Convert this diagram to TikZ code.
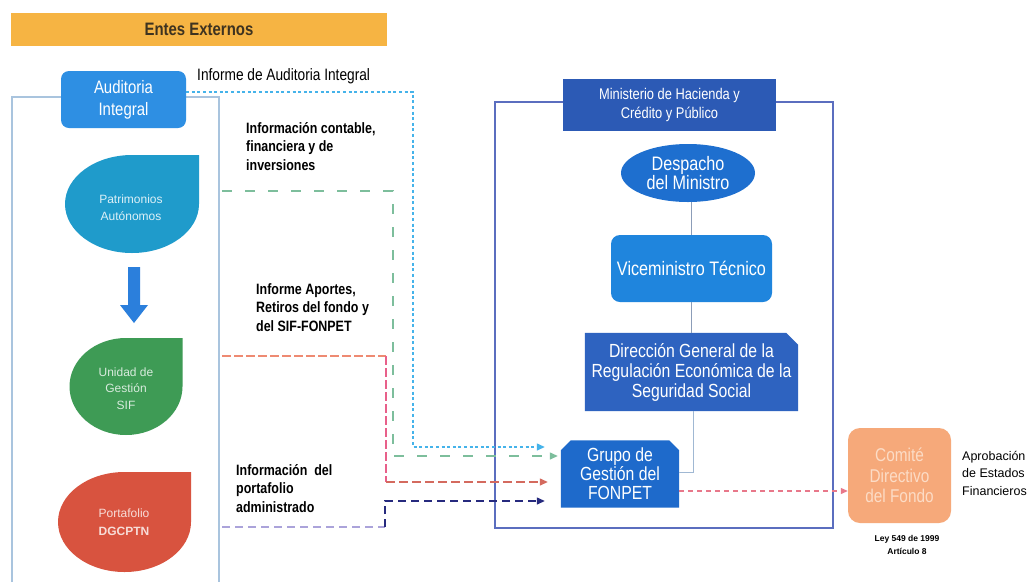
\documentclass[tikz,border=0pt]{standalone}
\usepackage{fontspec}
\setmainfont{Liberation Sans}[FakeStretch=0.83]
\newfontfamily\wide{Liberation Sans}
\usetikzlibrary{arrows.meta,backgrounds,shapes.geometric,calc}
\definecolor{orangeB}{HTML}{F6B443}
\definecolor{brownT}{HTML}{3E3320}
\definecolor{lbox}{HTML}{A9C4DE}
\definecolor{audC}{HTML}{2E8FE3}
\definecolor{patC}{HTML}{1F9BCB}
\definecolor{sifC}{HTML}{3E9B55}
\definecolor{porC}{HTML}{D8533F}
\definecolor{arrC}{HTML}{2B7FDC}
\definecolor{minC}{HTML}{2C5AB5}
\definecolor{despC}{HTML}{1E6FCF}
\definecolor{viceC}{HTML}{1F85DD}
\definecolor{dirC}{HTML}{2E63C0}
\definecolor{fonC}{HTML}{1E6ACB}
\definecolor{comC}{HTML}{F6A97A}
\definecolor{comT}{HTML}{FCDCC6}
\definecolor{outerC}{HTML}{5B6EBF}
\definecolor{cBlue}{HTML}{45B3EA}
\definecolor{cGreen}{HTML}{7DBE9C}
\definecolor{cSalmon}{HTML}{EE8A72}
\definecolor{cPink}{HTML}{E8608A}
\definecolor{cRed}{HTML}{D46A5E}
\definecolor{cLav}{HTML}{ABA3DA}
\definecolor{cNavy}{HTML}{262A7E}
\definecolor{cFon}{HTML}{E8788A}
\definecolor{orgLine}{HTML}{8C9DB8}
\newcommand\tdrop[5]{\fill[#5] ({#1+#3},#2) arc[start angle=0,end angle=270,x radius=#3,y radius=#4] -- ({#1+#3},{#2-#4}) -- cycle;}
\begin{document}
\begin{tikzpicture}[x=1pt,y=-1pt,
  every node/.style={inner sep=0pt, align=center},
  lbl/.style={font=\bfseries\fontsize{15}{18.5}\selectfont, align=left, anchor=north west},
  conn/.style={line width=1.3pt},
  tip/.style={-{Triangle[length=8pt,width=7pt]}},
  org/.style={orgLine, line width=1pt},
  wtxt/.style={text=white}]
\begin{scope}[on background layer]
\fill[white] (0,0) rectangle (1028,582);
\end{scope}
\useasboundingbox (0,0) rectangle (1028,582);

% banner
\node[fill=orangeB, minimum width=376pt, minimum height=33pt, text=brownT,
  font=\bfseries\fontsize{18}{20}\selectfont] (ent) at (199,29.5) {Entes Externos};

% left frame
\draw[lbox, line width=1.5pt] (12,582) -- (12,97) -- (219,97) -- (219,582);

% Auditoria
\node[fill=audC, rounded corners=8pt, minimum width=125pt, minimum height=57pt, wtxt,
  font=\fontsize{18}{22}\selectfont] (aud) at (123.5,99.5) {Auditoria\\Integral};

% teardrops
\tdrop{132}{204}{67}{49}{patC}
\node[text=white!85!patC, font=\wide\fontsize{12}{16.5}\selectfont] (pat) at (131,207.5) {Patrimonios\\Autónomos};
\fill[arrC] (128,267) -- (140,267) -- (140,305) -- (148,305) -- (134,323) -- (120,305) -- (128,305) -- cycle;
\tdrop{126}{386.5}{56.5}{48.5}{sifC}
\node[text=white!80!sifC, font=\wide\fontsize{12}{16.5}\selectfont] (sif) at (126,388.5) {Unidad de\\Gestión\\SIF};
\tdrop{124.5}{522}{66.5}{50}{porC}
\node[text=white!80!porC, font=\wide\fontsize{12}{18}\selectfont] (por) at (124,522) {Portafolio\\\textbf{DGCPTN}};

% Ministry frame
\draw[outerC, line width=1.5pt] (495,102) rectangle (833,528);
\node[fill=minC, minimum width=213pt, minimum height=52pt, wtxt,
  font=\fontsize{15.5}{19}\selectfont] (min) at (669.5,105) {Ministerio de Hacienda y\\Crédito y Público};
\node[ellipse, fill=despC, minimum width=134pt, minimum height=58pt, wtxt,
  font=\fontsize{19.5}{18}\selectfont] (desp) at (688,173) {Despacho\\del Ministro};
\node[fill=viceC, rounded corners=9pt, minimum width=161pt, minimum height=67pt, wtxt,
  font=\fontsize{19.5}{20}\selectfont] (vice) at (691.5,268.5) {Viceministro Técnico};
\node[minimum width=213pt, minimum height=78pt, wtxt,
  font=\fontsize{19}{20}\selectfont] (dir) at (691.5,372) {Dirección General de la\\Regulación Económica de la\\Seguridad Social};
\node[minimum width=118pt, minimum height=67pt, wtxt,
  font=\fontsize{19}{19}\selectfont] (fon) at (620,474) {Grupo de\\Gestión del\\FONPET};
\begin{scope}[on background layer]
\fill[dirC] (dir.south west) -- (dir.north west) -- ($(dir.north east)+(-12,0)$) -- ($(dir.north east)+(0,12)$) -- (dir.south east) -- cycle;
\fill[fonC] (fon.south west) -- ($(fon.north west)+(0,10)$) -- ($(fon.north west)+(10,0)$) -- ($(fon.north east)+(-10,0)$) -- ($(fon.north east)+(0,10)$) -- (fon.south east) -- cycle;
\end{scope}

% Comite
\node[fill=comC, rounded corners=12pt, minimum width=103pt, minimum height=95pt, text=comT,
  font=\fontsize{18.5}{20.5}\selectfont] (com) at (899.5,475.5) {Comité\\Directivo\\del Fondo};
\node[font=\wide\fontsize{12.5}{17.5}\selectfont, align=left, anchor=north west] (apr) at (962,451) {Aprobación\\de Estados\\Financieros};
\node[font=\wide\bfseries\fontsize{8.5}{13}\selectfont] (ley) at (907,545) {Ley 549 de 1999\\Artículo 8};

% organigram lines
\draw[org] (desp.south -| vice.north) -- (vice.north);
\draw[org] (vice.south) -- (dir.north);
\coordinate (yf) at (0,472);
\draw[org, lbox!70!orgLine] (dir.south) ++(1.5,0) |- (fon.east |- yf);

% labels
\node[font=\fontsize{16.5}{19}\selectfont, anchor=west] (l1) at (197,76) {Informe de Auditoria Integral};
\node[lbl] (l2) at (246,122) {Información contable,\\financiera y de\\inversiones};
\node[lbl] (l3) at (256,283) {Informe Aportes,\\Retiros del fondo y\\del SIF-FONPET};
\node[lbl] (l4) at (236,464) {Información\ \ del\\portafolio\\administrado};

% connectors
\coordinate (ya) at (0,92);
\coordinate (xb) at (413,0);
\coordinate (yb) at (0,447);
\draw[conn, cBlue, dash pattern=on 3pt off 2.6pt, tip, shorten >=16pt] (aud.east |- ya) -| (xb |- yb) -- (fon.west |- yb);

\coordinate (g0) at (222,191);
\coordinate (g1) at (393,456);
\draw[conn, cGreen, dash pattern=on 10pt off 13pt, tip, shorten >=3pt] (g0) -| (g1) -- (fon.west |- g1);

\coordinate (r0) at (222,356);
\coordinate (r1) at (386,356);
\coordinate (r2) at (386,482);
\draw[conn, cSalmon, dash pattern=on 9pt off 3pt] (r0) -- (r1);
\draw[conn, cPink, dash pattern=on 9pt off 3pt] (r1) -- (r2);
\draw[conn, cRed, dash pattern=on 9pt off 4pt, tip, shorten >=13pt] (r2) -- (fon.west |- r2);

\coordinate (n0) at (222,527);
\coordinate (n1) at (385,527);
\coordinate (n2) at (385,501);
\draw[conn, cLav, dash pattern=on 8pt off 5pt] (n0) -- (n1);
\draw[conn, cNavy, dash pattern=on 8pt off 5pt, tip, shorten >=16pt] (n1) -- (n2) -- (fon.west |- n2);

\coordinate (yc) at (0,491);
\draw[line width=1.1pt, cFon, dash pattern=on 5pt off 4pt, -{Triangle[length=7pt,width=6pt]}] (fon.east |- yc) -- (com.west |- yc);
\end{tikzpicture}
\end{document}
